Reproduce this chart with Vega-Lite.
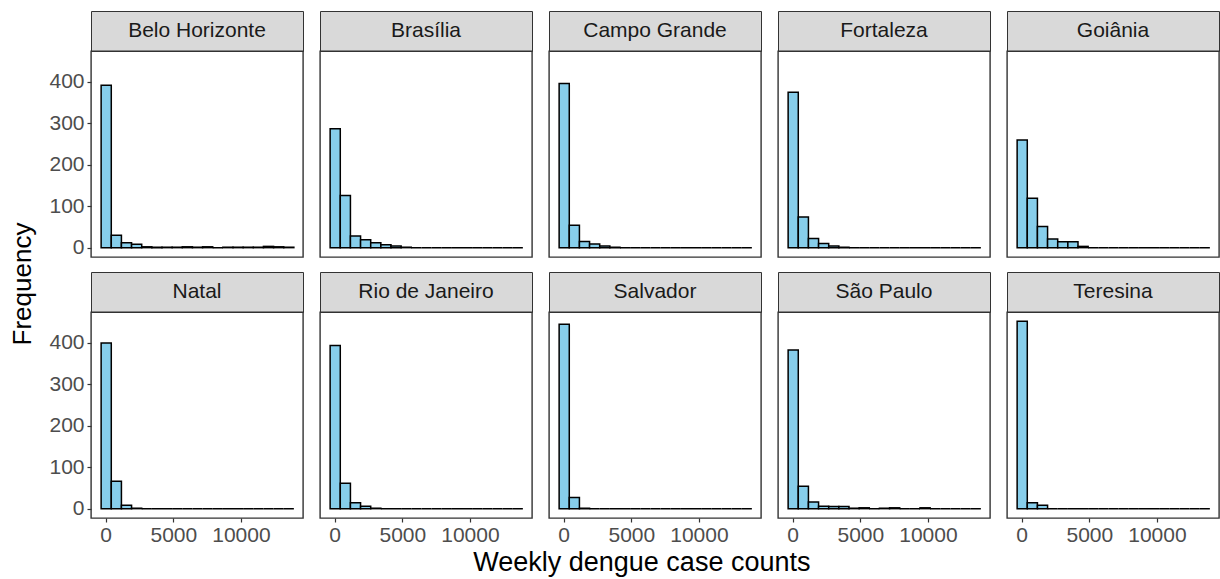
{
  "$schema": "https://vega.github.io/schema/vega-lite/v6.json",
  "padding": {"left": 10, "top": 10, "right": 2, "bottom": 4},
  "background": "white",
  "config": {
    "font": "Liberation Sans",
    "view": {"stroke": "#333333", "strokeWidth": 1.4},
    "axis": {"grid": false, "domain": false, "tickColor": "#333333", "tickSize": 4, "tickWidth": 1.2, "labelFontSize": 21, "labelColor": "#4D4D4D", "title": null}
  },
  "title": {"text": "Weekly dengue case counts", "orient": "bottom", "anchor": "middle", "fontSize": 27, "fontWeight": "normal", "color": "#000000", "offset": -7, "dx": 27},
  "datasets": {
    "cities": [
      {"city": "Belo Horizonte"}, {"city": "Brasília"}, {"city": "Campo Grande"}, {"city": "Fortaleza"}, {"city": "Goiânia"},
      {"city": "Natal"}, {"city": "Rio de Janeiro"}, {"city": "Salvador"}, {"city": "São Paulo"}, {"city": "Teresina"}
    ],
    "bins": [
      {"city": "Belo Horizonte", "bin_start": -375, "count": 392},
      {"city": "Belo Horizonte", "bin_start": 375, "count": 30},
      {"city": "Belo Horizonte", "bin_start": 1125, "count": 12},
      {"city": "Belo Horizonte", "bin_start": 1875, "count": 8},
      {"city": "Belo Horizonte", "bin_start": 2625, "count": 2},
      {"city": "Belo Horizonte", "bin_start": 3375, "count": 1},
      {"city": "Belo Horizonte", "bin_start": 4125, "count": 1},
      {"city": "Belo Horizonte", "bin_start": 4875, "count": 1},
      {"city": "Belo Horizonte", "bin_start": 5625, "count": 2},
      {"city": "Belo Horizonte", "bin_start": 6375, "count": 1},
      {"city": "Belo Horizonte", "bin_start": 7125, "count": 2},
      {"city": "Belo Horizonte", "bin_start": 7875, "count": 0},
      {"city": "Belo Horizonte", "bin_start": 8625, "count": 1},
      {"city": "Belo Horizonte", "bin_start": 9375, "count": 1},
      {"city": "Belo Horizonte", "bin_start": 10125, "count": 1},
      {"city": "Belo Horizonte", "bin_start": 10875, "count": 1},
      {"city": "Belo Horizonte", "bin_start": 11625, "count": 3},
      {"city": "Belo Horizonte", "bin_start": 12375, "count": 2},
      {"city": "Belo Horizonte", "bin_start": 13125, "count": 1},
      {"city": "Brasília", "bin_start": -375, "count": 287},
      {"city": "Brasília", "bin_start": 375, "count": 126},
      {"city": "Brasília", "bin_start": 1125, "count": 28},
      {"city": "Brasília", "bin_start": 1875, "count": 19},
      {"city": "Brasília", "bin_start": 2625, "count": 12},
      {"city": "Brasília", "bin_start": 3375, "count": 7},
      {"city": "Brasília", "bin_start": 4125, "count": 4},
      {"city": "Brasília", "bin_start": 4875, "count": 1},
      {"city": "Brasília", "bin_start": 5625, "count": 0},
      {"city": "Brasília", "bin_start": 6375, "count": 0},
      {"city": "Brasília", "bin_start": 7125, "count": 0},
      {"city": "Brasília", "bin_start": 7875, "count": 0},
      {"city": "Brasília", "bin_start": 8625, "count": 0},
      {"city": "Brasília", "bin_start": 9375, "count": 0},
      {"city": "Brasília", "bin_start": 10125, "count": 0},
      {"city": "Brasília", "bin_start": 10875, "count": 0},
      {"city": "Brasília", "bin_start": 11625, "count": 0},
      {"city": "Brasília", "bin_start": 12375, "count": 0},
      {"city": "Brasília", "bin_start": 13125, "count": 0},
      {"city": "Campo Grande", "bin_start": -375, "count": 396},
      {"city": "Campo Grande", "bin_start": 375, "count": 54},
      {"city": "Campo Grande", "bin_start": 1125, "count": 15},
      {"city": "Campo Grande", "bin_start": 1875, "count": 9},
      {"city": "Campo Grande", "bin_start": 2625, "count": 4},
      {"city": "Campo Grande", "bin_start": 3375, "count": 1},
      {"city": "Campo Grande", "bin_start": 4125, "count": 0},
      {"city": "Campo Grande", "bin_start": 4875, "count": 0},
      {"city": "Campo Grande", "bin_start": 5625, "count": 0},
      {"city": "Campo Grande", "bin_start": 6375, "count": 0},
      {"city": "Campo Grande", "bin_start": 7125, "count": 0},
      {"city": "Campo Grande", "bin_start": 7875, "count": 0},
      {"city": "Campo Grande", "bin_start": 8625, "count": 0},
      {"city": "Campo Grande", "bin_start": 9375, "count": 0},
      {"city": "Campo Grande", "bin_start": 10125, "count": 0},
      {"city": "Campo Grande", "bin_start": 10875, "count": 0},
      {"city": "Campo Grande", "bin_start": 11625, "count": 0},
      {"city": "Campo Grande", "bin_start": 12375, "count": 0},
      {"city": "Campo Grande", "bin_start": 13125, "count": 0},
      {"city": "Fortaleza", "bin_start": -375, "count": 375},
      {"city": "Fortaleza", "bin_start": 375, "count": 74},
      {"city": "Fortaleza", "bin_start": 1125, "count": 22},
      {"city": "Fortaleza", "bin_start": 1875, "count": 10},
      {"city": "Fortaleza", "bin_start": 2625, "count": 4},
      {"city": "Fortaleza", "bin_start": 3375, "count": 1},
      {"city": "Fortaleza", "bin_start": 4125, "count": 0},
      {"city": "Fortaleza", "bin_start": 4875, "count": 0},
      {"city": "Fortaleza", "bin_start": 5625, "count": 0},
      {"city": "Fortaleza", "bin_start": 6375, "count": 0},
      {"city": "Fortaleza", "bin_start": 7125, "count": 0},
      {"city": "Fortaleza", "bin_start": 7875, "count": 0},
      {"city": "Fortaleza", "bin_start": 8625, "count": 0},
      {"city": "Fortaleza", "bin_start": 9375, "count": 0},
      {"city": "Fortaleza", "bin_start": 10125, "count": 0},
      {"city": "Fortaleza", "bin_start": 10875, "count": 0},
      {"city": "Fortaleza", "bin_start": 11625, "count": 0},
      {"city": "Fortaleza", "bin_start": 12375, "count": 0},
      {"city": "Fortaleza", "bin_start": 13125, "count": 0},
      {"city": "Goiânia", "bin_start": -375, "count": 260},
      {"city": "Goiânia", "bin_start": 375, "count": 119},
      {"city": "Goiânia", "bin_start": 1125, "count": 51},
      {"city": "Goiânia", "bin_start": 1875, "count": 21},
      {"city": "Goiânia", "bin_start": 2625, "count": 14},
      {"city": "Goiânia", "bin_start": 3375, "count": 14},
      {"city": "Goiânia", "bin_start": 4125, "count": 3},
      {"city": "Goiânia", "bin_start": 4875, "count": 0},
      {"city": "Goiânia", "bin_start": 5625, "count": 0},
      {"city": "Goiânia", "bin_start": 6375, "count": 0},
      {"city": "Goiânia", "bin_start": 7125, "count": 0},
      {"city": "Goiânia", "bin_start": 7875, "count": 0},
      {"city": "Goiânia", "bin_start": 8625, "count": 0},
      {"city": "Goiânia", "bin_start": 9375, "count": 0},
      {"city": "Goiânia", "bin_start": 10125, "count": 0},
      {"city": "Goiânia", "bin_start": 10875, "count": 0},
      {"city": "Goiânia", "bin_start": 11625, "count": 0},
      {"city": "Goiânia", "bin_start": 12375, "count": 0},
      {"city": "Goiânia", "bin_start": 13125, "count": 0},
      {"city": "Natal", "bin_start": -375, "count": 400},
      {"city": "Natal", "bin_start": 375, "count": 66},
      {"city": "Natal", "bin_start": 1125, "count": 8},
      {"city": "Natal", "bin_start": 1875, "count": 1},
      {"city": "Natal", "bin_start": 2625, "count": 0},
      {"city": "Natal", "bin_start": 3375, "count": 0},
      {"city": "Natal", "bin_start": 4125, "count": 0},
      {"city": "Natal", "bin_start": 4875, "count": 0},
      {"city": "Natal", "bin_start": 5625, "count": 0},
      {"city": "Natal", "bin_start": 6375, "count": 0},
      {"city": "Natal", "bin_start": 7125, "count": 0},
      {"city": "Natal", "bin_start": 7875, "count": 0},
      {"city": "Natal", "bin_start": 8625, "count": 0},
      {"city": "Natal", "bin_start": 9375, "count": 0},
      {"city": "Natal", "bin_start": 10125, "count": 0},
      {"city": "Natal", "bin_start": 10875, "count": 0},
      {"city": "Natal", "bin_start": 11625, "count": 0},
      {"city": "Natal", "bin_start": 12375, "count": 0},
      {"city": "Natal", "bin_start": 13125, "count": 0},
      {"city": "Rio de Janeiro", "bin_start": -375, "count": 394},
      {"city": "Rio de Janeiro", "bin_start": 375, "count": 61},
      {"city": "Rio de Janeiro", "bin_start": 1125, "count": 14},
      {"city": "Rio de Janeiro", "bin_start": 1875, "count": 6},
      {"city": "Rio de Janeiro", "bin_start": 2625, "count": 1},
      {"city": "Rio de Janeiro", "bin_start": 3375, "count": 0},
      {"city": "Rio de Janeiro", "bin_start": 4125, "count": 0},
      {"city": "Rio de Janeiro", "bin_start": 4875, "count": 0},
      {"city": "Rio de Janeiro", "bin_start": 5625, "count": 0},
      {"city": "Rio de Janeiro", "bin_start": 6375, "count": 0},
      {"city": "Rio de Janeiro", "bin_start": 7125, "count": 0},
      {"city": "Rio de Janeiro", "bin_start": 7875, "count": 0},
      {"city": "Rio de Janeiro", "bin_start": 8625, "count": 0},
      {"city": "Rio de Janeiro", "bin_start": 9375, "count": 0},
      {"city": "Rio de Janeiro", "bin_start": 10125, "count": 0},
      {"city": "Rio de Janeiro", "bin_start": 10875, "count": 0},
      {"city": "Rio de Janeiro", "bin_start": 11625, "count": 0},
      {"city": "Rio de Janeiro", "bin_start": 12375, "count": 0},
      {"city": "Rio de Janeiro", "bin_start": 13125, "count": 0},
      {"city": "Salvador", "bin_start": -375, "count": 445},
      {"city": "Salvador", "bin_start": 375, "count": 27},
      {"city": "Salvador", "bin_start": 1125, "count": 1},
      {"city": "Salvador", "bin_start": 1875, "count": 0},
      {"city": "Salvador", "bin_start": 2625, "count": 0},
      {"city": "Salvador", "bin_start": 3375, "count": 0},
      {"city": "Salvador", "bin_start": 4125, "count": 0},
      {"city": "Salvador", "bin_start": 4875, "count": 0},
      {"city": "Salvador", "bin_start": 5625, "count": 0},
      {"city": "Salvador", "bin_start": 6375, "count": 0},
      {"city": "Salvador", "bin_start": 7125, "count": 0},
      {"city": "Salvador", "bin_start": 7875, "count": 0},
      {"city": "Salvador", "bin_start": 8625, "count": 0},
      {"city": "Salvador", "bin_start": 9375, "count": 0},
      {"city": "Salvador", "bin_start": 10125, "count": 0},
      {"city": "Salvador", "bin_start": 10875, "count": 0},
      {"city": "Salvador", "bin_start": 11625, "count": 0},
      {"city": "Salvador", "bin_start": 12375, "count": 0},
      {"city": "Salvador", "bin_start": 13125, "count": 0},
      {"city": "São Paulo", "bin_start": -375, "count": 383},
      {"city": "São Paulo", "bin_start": 375, "count": 54},
      {"city": "São Paulo", "bin_start": 1125, "count": 16},
      {"city": "São Paulo", "bin_start": 1875, "count": 6},
      {"city": "São Paulo", "bin_start": 2625, "count": 5},
      {"city": "São Paulo", "bin_start": 3375, "count": 5},
      {"city": "São Paulo", "bin_start": 4125, "count": 1},
      {"city": "São Paulo", "bin_start": 4875, "count": 2},
      {"city": "São Paulo", "bin_start": 5625, "count": 0},
      {"city": "São Paulo", "bin_start": 6375, "count": 1},
      {"city": "São Paulo", "bin_start": 7125, "count": 2},
      {"city": "São Paulo", "bin_start": 7875, "count": 0},
      {"city": "São Paulo", "bin_start": 8625, "count": 0},
      {"city": "São Paulo", "bin_start": 9375, "count": 2},
      {"city": "São Paulo", "bin_start": 10125, "count": 0},
      {"city": "São Paulo", "bin_start": 10875, "count": 0},
      {"city": "São Paulo", "bin_start": 11625, "count": 0},
      {"city": "São Paulo", "bin_start": 12375, "count": 0},
      {"city": "São Paulo", "bin_start": 13125, "count": 0},
      {"city": "Teresina", "bin_start": -375, "count": 452},
      {"city": "Teresina", "bin_start": 375, "count": 14},
      {"city": "Teresina", "bin_start": 1125, "count": 8},
      {"city": "Teresina", "bin_start": 1875, "count": 0},
      {"city": "Teresina", "bin_start": 2625, "count": 0},
      {"city": "Teresina", "bin_start": 3375, "count": 0},
      {"city": "Teresina", "bin_start": 4125, "count": 0},
      {"city": "Teresina", "bin_start": 4875, "count": 0},
      {"city": "Teresina", "bin_start": 5625, "count": 0},
      {"city": "Teresina", "bin_start": 6375, "count": 0},
      {"city": "Teresina", "bin_start": 7125, "count": 0},
      {"city": "Teresina", "bin_start": 7875, "count": 0},
      {"city": "Teresina", "bin_start": 8625, "count": 0},
      {"city": "Teresina", "bin_start": 9375, "count": 0},
      {"city": "Teresina", "bin_start": 10125, "count": 0},
      {"city": "Teresina", "bin_start": 10875, "count": 0},
      {"city": "Teresina", "bin_start": 11625, "count": 0},
      {"city": "Teresina", "bin_start": 12375, "count": 0},
      {"city": "Teresina", "bin_start": 13125, "count": 0}
    ]
  },
  "hconcat": [
    {
      "width": 24, "height": 546,
      "data": {"values": [{"label": "Frequency"}]},
      "mark": {"type": "text", "angle": 270, "fontSize": 26, "color": "#000000"},
      "encoding": {"text": {"field": "label"}},
      "view": {"stroke": null}
    },
    {
      "columns": 5,
      "spacing": {"row": 12, "column": 15},
      "concat": [
        {"bounds": "flush", "spacing": 0, "vconcat": [
          {"width": 212, "height": 40, "data": {"name": "cities"}, "transform": [{"filter": "datum.city === 'Belo Horizonte'"}],
           "mark": {"type": "text", "fontSize": 21, "color": "#1A1A1A"}, "encoding": {"text": {"field": "city"}},
           "view": {"fill": "#D9D9D9", "stroke": "#333333"}},
          {"width": 212, "height": 206, "data": {"name": "bins"}, "transform": [{"filter": "datum.city === 'Belo Horizonte'"}],
           "mark": {"type": "bar", "fill": "#87CEEB", "stroke": "#000000", "strokeWidth": 1.5, "binSpacing": 0},
           "encoding": {
             "x": {"field": "bin_start", "type": "quantitative", "bin": {"binned": true, "step": 750}, "scale": {"domain": [-1087.5, 14587.5], "nice": false, "zero": false}, "axis": null},
             "y": {"field": "count", "type": "quantitative", "scale": {"domain": [-22.6, 474.6], "nice": false, "zero": false}, "axis": {"values": [0, 100, 200, 300, 400], "labelPadding": 3}},
             "y2": {"datum": 0}}}
        ]},
        {"bounds": "flush", "spacing": 0, "vconcat": [
          {"width": 212, "height": 40, "data": {"name": "cities"}, "transform": [{"filter": "datum.city === 'Brasília'"}],
           "mark": {"type": "text", "fontSize": 21, "color": "#1A1A1A"}, "encoding": {"text": {"field": "city"}},
           "view": {"fill": "#D9D9D9", "stroke": "#333333"}},
          {"width": 212, "height": 206, "data": {"name": "bins"}, "transform": [{"filter": "datum.city === 'Brasília'"}],
           "mark": {"type": "bar", "fill": "#87CEEB", "stroke": "#000000", "strokeWidth": 1.5, "binSpacing": 0},
           "encoding": {
             "x": {"field": "bin_start", "type": "quantitative", "bin": {"binned": true, "step": 750}, "scale": {"domain": [-1087.5, 14587.5], "nice": false, "zero": false}, "axis": null},
             "y": {"field": "count", "type": "quantitative", "scale": {"domain": [-22.6, 474.6], "nice": false, "zero": false}, "axis": null},
             "y2": {"datum": 0}}}
        ]},
        {"bounds": "flush", "spacing": 0, "vconcat": [
          {"width": 212, "height": 40, "data": {"name": "cities"}, "transform": [{"filter": "datum.city === 'Campo Grande'"}],
           "mark": {"type": "text", "fontSize": 21, "color": "#1A1A1A"}, "encoding": {"text": {"field": "city"}},
           "view": {"fill": "#D9D9D9", "stroke": "#333333"}},
          {"width": 212, "height": 206, "data": {"name": "bins"}, "transform": [{"filter": "datum.city === 'Campo Grande'"}],
           "mark": {"type": "bar", "fill": "#87CEEB", "stroke": "#000000", "strokeWidth": 1.5, "binSpacing": 0},
           "encoding": {
             "x": {"field": "bin_start", "type": "quantitative", "bin": {"binned": true, "step": 750}, "scale": {"domain": [-1087.5, 14587.5], "nice": false, "zero": false}, "axis": null},
             "y": {"field": "count", "type": "quantitative", "scale": {"domain": [-22.6, 474.6], "nice": false, "zero": false}, "axis": null},
             "y2": {"datum": 0}}}
        ]},
        {"bounds": "flush", "spacing": 0, "vconcat": [
          {"width": 212, "height": 40, "data": {"name": "cities"}, "transform": [{"filter": "datum.city === 'Fortaleza'"}],
           "mark": {"type": "text", "fontSize": 21, "color": "#1A1A1A"}, "encoding": {"text": {"field": "city"}},
           "view": {"fill": "#D9D9D9", "stroke": "#333333"}},
          {"width": 212, "height": 206, "data": {"name": "bins"}, "transform": [{"filter": "datum.city === 'Fortaleza'"}],
           "mark": {"type": "bar", "fill": "#87CEEB", "stroke": "#000000", "strokeWidth": 1.5, "binSpacing": 0},
           "encoding": {
             "x": {"field": "bin_start", "type": "quantitative", "bin": {"binned": true, "step": 750}, "scale": {"domain": [-1087.5, 14587.5], "nice": false, "zero": false}, "axis": null},
             "y": {"field": "count", "type": "quantitative", "scale": {"domain": [-22.6, 474.6], "nice": false, "zero": false}, "axis": null},
             "y2": {"datum": 0}}}
        ]},
        {"bounds": "flush", "spacing": 0, "vconcat": [
          {"width": 212, "height": 40, "data": {"name": "cities"}, "transform": [{"filter": "datum.city === 'Goiânia'"}],
           "mark": {"type": "text", "fontSize": 21, "color": "#1A1A1A"}, "encoding": {"text": {"field": "city"}},
           "view": {"fill": "#D9D9D9", "stroke": "#333333"}},
          {"width": 212, "height": 206, "data": {"name": "bins"}, "transform": [{"filter": "datum.city === 'Goiânia'"}],
           "mark": {"type": "bar", "fill": "#87CEEB", "stroke": "#000000", "strokeWidth": 1.5, "binSpacing": 0},
           "encoding": {
             "x": {"field": "bin_start", "type": "quantitative", "bin": {"binned": true, "step": 750}, "scale": {"domain": [-1087.5, 14587.5], "nice": false, "zero": false}, "axis": null},
             "y": {"field": "count", "type": "quantitative", "scale": {"domain": [-22.6, 474.6], "nice": false, "zero": false}, "axis": null},
             "y2": {"datum": 0}}}
        ]},
        {"bounds": "flush", "spacing": 0, "vconcat": [
          {"width": 212, "height": 40, "data": {"name": "cities"}, "transform": [{"filter": "datum.city === 'Natal'"}],
           "mark": {"type": "text", "fontSize": 21, "color": "#1A1A1A"}, "encoding": {"text": {"field": "city"}},
           "view": {"fill": "#D9D9D9", "stroke": "#333333"}},
          {"width": 212, "height": 206, "data": {"name": "bins"}, "transform": [{"filter": "datum.city === 'Natal'"}],
           "mark": {"type": "bar", "fill": "#87CEEB", "stroke": "#000000", "strokeWidth": 1.5, "binSpacing": 0},
           "encoding": {
             "x": {"field": "bin_start", "type": "quantitative", "bin": {"binned": true, "step": 750}, "scale": {"domain": [-1087.5, 14587.5], "nice": false, "zero": false}, "axis": {"values": [0, 5000, 10000], "format": "d", "labelPadding": 2}},
             "y": {"field": "count", "type": "quantitative", "scale": {"domain": [-22.6, 474.6], "nice": false, "zero": false}, "axis": {"values": [0, 100, 200, 300, 400], "labelPadding": 3}},
             "y2": {"datum": 0}}}
        ]},
        {"bounds": "flush", "spacing": 0, "vconcat": [
          {"width": 212, "height": 40, "data": {"name": "cities"}, "transform": [{"filter": "datum.city === 'Rio de Janeiro'"}],
           "mark": {"type": "text", "fontSize": 21, "color": "#1A1A1A"}, "encoding": {"text": {"field": "city"}},
           "view": {"fill": "#D9D9D9", "stroke": "#333333"}},
          {"width": 212, "height": 206, "data": {"name": "bins"}, "transform": [{"filter": "datum.city === 'Rio de Janeiro'"}],
           "mark": {"type": "bar", "fill": "#87CEEB", "stroke": "#000000", "strokeWidth": 1.5, "binSpacing": 0},
           "encoding": {
             "x": {"field": "bin_start", "type": "quantitative", "bin": {"binned": true, "step": 750}, "scale": {"domain": [-1087.5, 14587.5], "nice": false, "zero": false}, "axis": {"values": [0, 5000, 10000], "format": "d", "labelPadding": 2}},
             "y": {"field": "count", "type": "quantitative", "scale": {"domain": [-22.6, 474.6], "nice": false, "zero": false}, "axis": null},
             "y2": {"datum": 0}}}
        ]},
        {"bounds": "flush", "spacing": 0, "vconcat": [
          {"width": 212, "height": 40, "data": {"name": "cities"}, "transform": [{"filter": "datum.city === 'Salvador'"}],
           "mark": {"type": "text", "fontSize": 21, "color": "#1A1A1A"}, "encoding": {"text": {"field": "city"}},
           "view": {"fill": "#D9D9D9", "stroke": "#333333"}},
          {"width": 212, "height": 206, "data": {"name": "bins"}, "transform": [{"filter": "datum.city === 'Salvador'"}],
           "mark": {"type": "bar", "fill": "#87CEEB", "stroke": "#000000", "strokeWidth": 1.5, "binSpacing": 0},
           "encoding": {
             "x": {"field": "bin_start", "type": "quantitative", "bin": {"binned": true, "step": 750}, "scale": {"domain": [-1087.5, 14587.5], "nice": false, "zero": false}, "axis": {"values": [0, 5000, 10000], "format": "d", "labelPadding": 2}},
             "y": {"field": "count", "type": "quantitative", "scale": {"domain": [-22.6, 474.6], "nice": false, "zero": false}, "axis": null},
             "y2": {"datum": 0}}}
        ]},
        {"bounds": "flush", "spacing": 0, "vconcat": [
          {"width": 212, "height": 40, "data": {"name": "cities"}, "transform": [{"filter": "datum.city === 'São Paulo'"}],
           "mark": {"type": "text", "fontSize": 21, "color": "#1A1A1A"}, "encoding": {"text": {"field": "city"}},
           "view": {"fill": "#D9D9D9", "stroke": "#333333"}},
          {"width": 212, "height": 206, "data": {"name": "bins"}, "transform": [{"filter": "datum.city === 'São Paulo'"}],
           "mark": {"type": "bar", "fill": "#87CEEB", "stroke": "#000000", "strokeWidth": 1.5, "binSpacing": 0},
           "encoding": {
             "x": {"field": "bin_start", "type": "quantitative", "bin": {"binned": true, "step": 750}, "scale": {"domain": [-1087.5, 14587.5], "nice": false, "zero": false}, "axis": {"values": [0, 5000, 10000], "format": "d", "labelPadding": 2}},
             "y": {"field": "count", "type": "quantitative", "scale": {"domain": [-22.6, 474.6], "nice": false, "zero": false}, "axis": null},
             "y2": {"datum": 0}}}
        ]},
        {"bounds": "flush", "spacing": 0, "vconcat": [
          {"width": 212, "height": 40, "data": {"name": "cities"}, "transform": [{"filter": "datum.city === 'Teresina'"}],
           "mark": {"type": "text", "fontSize": 21, "color": "#1A1A1A"}, "encoding": {"text": {"field": "city"}},
           "view": {"fill": "#D9D9D9", "stroke": "#333333"}},
          {"width": 212, "height": 206, "data": {"name": "bins"}, "transform": [{"filter": "datum.city === 'Teresina'"}],
           "mark": {"type": "bar", "fill": "#87CEEB", "stroke": "#000000", "strokeWidth": 1.5, "binSpacing": 0},
           "encoding": {
             "x": {"field": "bin_start", "type": "quantitative", "bin": {"binned": true, "step": 750}, "scale": {"domain": [-1087.5, 14587.5], "nice": false, "zero": false}, "axis": {"values": [0, 5000, 10000], "format": "d", "labelPadding": 2}},
             "y": {"field": "count", "type": "quantitative", "scale": {"domain": [-22.6, 474.6], "nice": false, "zero": false}, "axis": null},
             "y2": {"datum": 0}}}
        ]}
      ]
    }
  ],
  "spacing": 12
}
